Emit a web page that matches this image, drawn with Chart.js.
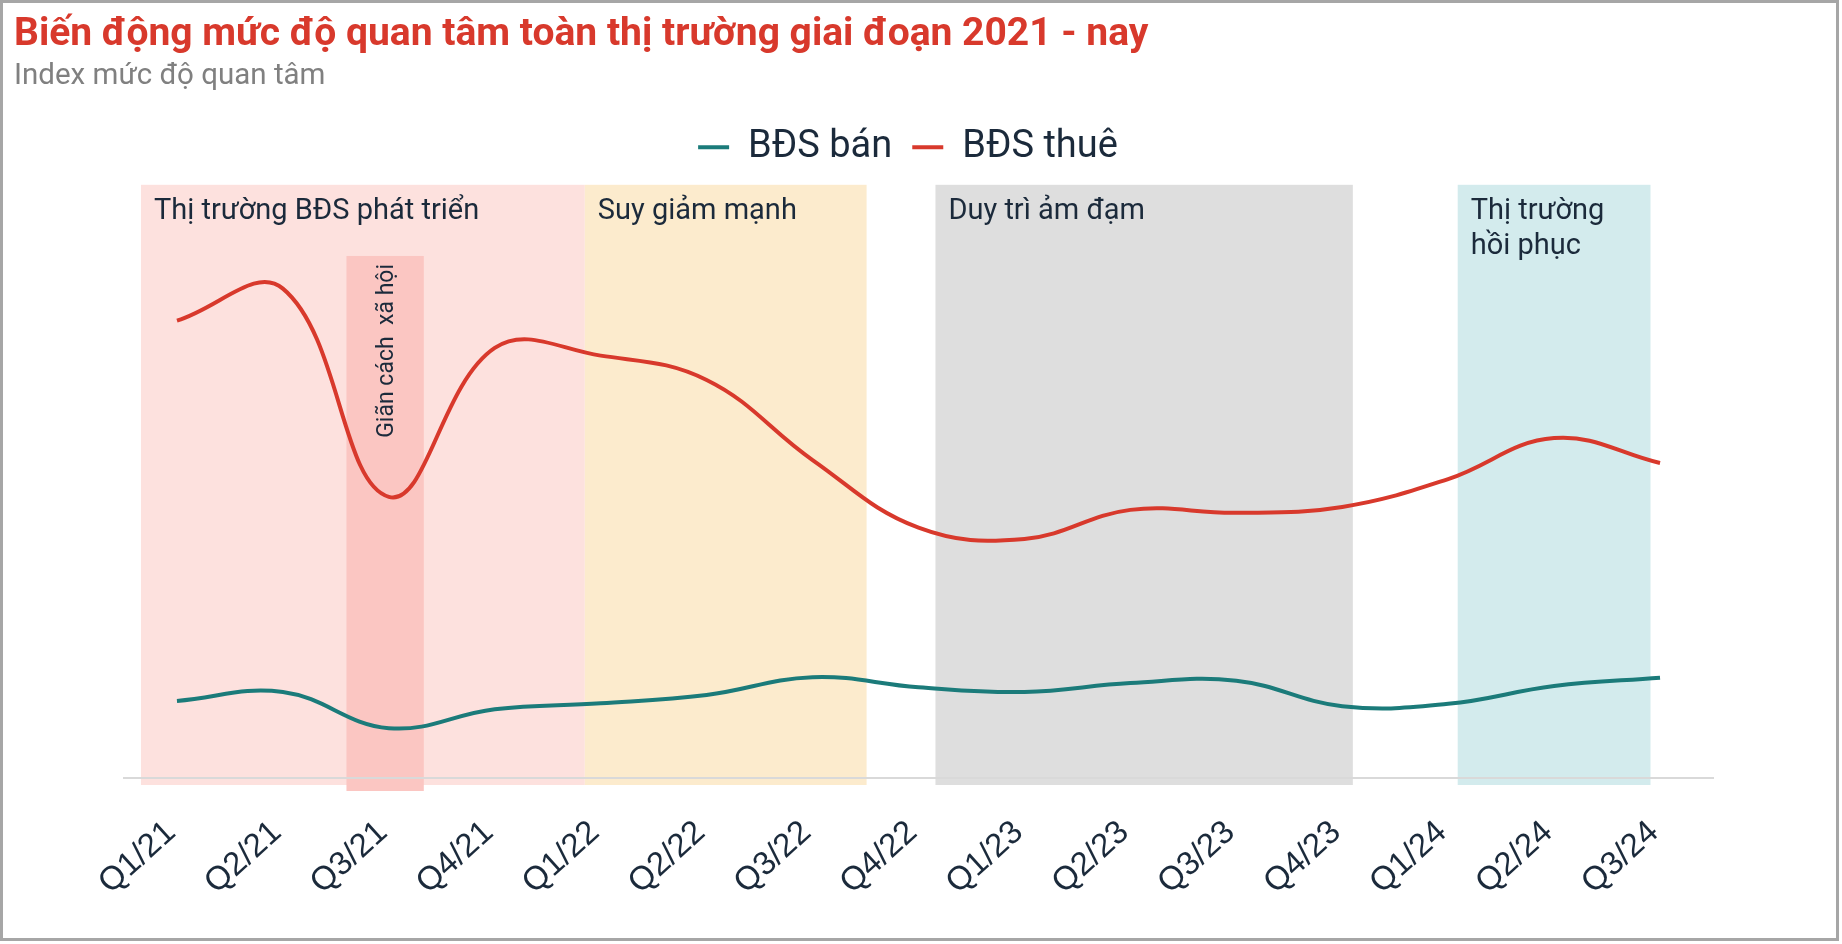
<!DOCTYPE html>
<html lang="vi">
<head>
<meta charset="utf-8">
<title>Biến động mức độ quan tâm toàn thị trường</title>
<script src="https://cdn.jsdelivr.net/npm/chart.js@4.4.1/dist/chart.umd.min.js"></script>
<style>
    html, body { margin: 0; padding: 0; background: #fff; }
    #wrap { position: relative; width: 1842px; height: 944px; }
    #frame {
        position: absolute; left: 0; top: 0;
        width: 1839px; height: 941px;
        box-sizing: border-box;
        border: 3px solid #a6a6a6;
        pointer-events: none;
    }
</style>
</head>
<body>
<div id="wrap">
    <canvas id="interestChart"></canvas>
    <div id="frame"></div>
</div>
<script>
// Số liệu (index mức độ quan tâm)
const quarters = ['Q1/21', 'Q2/21', 'Q3/21', 'Q4/21', 'Q1/22', 'Q2/22', 'Q3/22', 'Q4/22',
                  'Q1/23', 'Q2/23', 'Q3/23', 'Q4/23', 'Q1/24', 'Q2/24', 'Q3/24'];
const banValues  = [13.0, 14.5, 8.4, 11.6, 12.6, 14.0, 17.0, 15.3, 14.5, 16.0, 16.4, 12.1, 12.5, 15.5, 16.9];
const thueValues = [77.1, 82.5, 47.4, 72.5, 71.2, 67.1, 53.6, 42.2, 40.3, 45.2, 44.7, 45.7, 50.4, 57.3, 53.1];

// Các giai đoạn thị trường, tính theo vị trí quý (0 = Q1/21)
const phaseLabels = [['Thị trường BĐS phát triển'], ['Suy giảm mạnh'], ['Duy trì ảm đạm'], ['Thị trường', 'hồi phục']];
const phaseStart  = [-0.34, 3.85, 7.16, 12.09];
const phaseEnd    = [3.85, 6.51, 11.10, 13.91];
const lockdownLabel = 'Giãn cách  xã hội';
const lockdownStart = 1.60;
const lockdownEnd   = 2.33;

const phaseColors = ['#fde1de', '#fcebcd', '#dedede', '#d3ebed'];
const textColor = '#1b2a3b';

// Vẽ các dải nền giai đoạn trước khi vẽ trục và đường
const phaseBands = {
    id: 'phaseBands',
    beforeDraw(chart) {
        const { ctx, chartArea, scales: { x, y } } = chart;
        const top = y.getPixelForValue(100);
        const bottom = chartArea.bottom + 7;
        ctx.save();

        phaseStart.forEach((s, i) => {
            const left = x.getPixelForValue(s);
            const right = x.getPixelForValue(phaseEnd[i]);
            ctx.fillStyle = phaseColors[i];
            ctx.fillRect(left, top, right - left, bottom - top);
        });

        // dải giãn cách xã hội
        const lx1 = x.getPixelForValue(lockdownStart);
        const lx2 = x.getPixelForValue(lockdownEnd);
        const ltop = y.getPixelForValue(88);
        ctx.fillStyle = '#fbc6c2';
        ctx.fillRect(lx1, ltop, lx2 - lx1, chartArea.bottom + 13 - ltop);

        ctx.fillStyle = textColor;
        ctx.font = '29px Roboto';
        ctx.textAlign = 'left';
        ctx.textBaseline = 'middle';
        phaseLabels.forEach((lines, i) => {
            const left = x.getPixelForValue(phaseStart[i]);
            lines.forEach((t, j) => ctx.fillText(t, left + 13, top + 27 + j * 35));
        });

        ctx.translate((lx1 + lx2) / 2 + 2, ltop + 8);
        ctx.rotate(-Math.PI / 2);
        ctx.textAlign = 'right';
        ctx.font = '23px Roboto';
        ctx.fillText(lockdownLabel, 0, 0);
        ctx.restore();
    }
};

const ctx = document.getElementById('interestChart').getContext('2d');
const interestChart = new Chart(ctx, {
    type: 'line',
    data: {
        labels: quarters,
        datasets: [
            {
                label: 'BĐS bán',
                data: banValues,
                borderColor: '#1b7b7a',
                backgroundColor: '#1b7b7a',
                borderWidth: 4,
                pointRadius: 0,
                tension: 0.4
            },
            {
                label: 'BĐS thuê',
                data: thueValues,
                borderColor: '#d8392c',
                backgroundColor: '#d8392c',
                borderWidth: 4,
                pointRadius: 0,
                tension: 0.4
            }
        ]
    },
    options: {
        responsive: true,
        maintainAspectRatio: false,
        animation: false,
        layout: { padding: { left: 14, right: 40, top: 0, bottom: 0 } },
        scales: {
            x: {
                offset: true,
                grid: { display: false, drawTicks: false },
                border: { display: true, color: '#d9d9d9', width: 2 },
                ticks: {
                    color: textColor,
                    font: { family: 'Liberation Sans', size: 33 },
                    minRotation: 42,
                    maxRotation: 42,
                    autoSkip: false,
                    padding: 35,
                    labelOffset: -6
                },
                afterFit(scale) { scale.height = 166; }
            },
            y: {
                min: 0,
                max: 101.45,
                ticks: { display: false },
                grid: { display: false },
                border: { display: false },
                afterFit(scale) { scale.width = 110; }
            },
            yRight: {
                position: 'right',
                ticks: { display: false },
                grid: { display: false },
                border: { display: false },
                afterFit(scale) { scale.width = 89; }
            }
        },
        plugins: {
            title: {
                display: true,
                text: 'Biến động mức độ quan tâm toàn thị trường giai đoạn 2021 - nay',
                align: 'start',
                color: '#d8392c',
                font: { family: 'Roboto', size: 39, weight: 'bold' },
                padding: { top: 12, bottom: 0 }
            },
            subtitle: {
                display: true,
                text: 'Index mức độ quan tâm',
                align: 'start',
                color: '#808080',
                font: { family: 'Roboto', size: 29.5 },
                padding: { top: 0, bottom: 14 }
            },
            legend: {
                labels: {
                    usePointStyle: true,
                    pointStyle: 'line',
                    pointStyleWidth: 31,
                    color: textColor,
                    font: { family: 'Roboto', size: 38 },
                    padding: 20
                }
            },
            tooltip: { enabled: false }
        }
    },
    plugins: [phaseBands]
});
</script>
</body>
</html>
